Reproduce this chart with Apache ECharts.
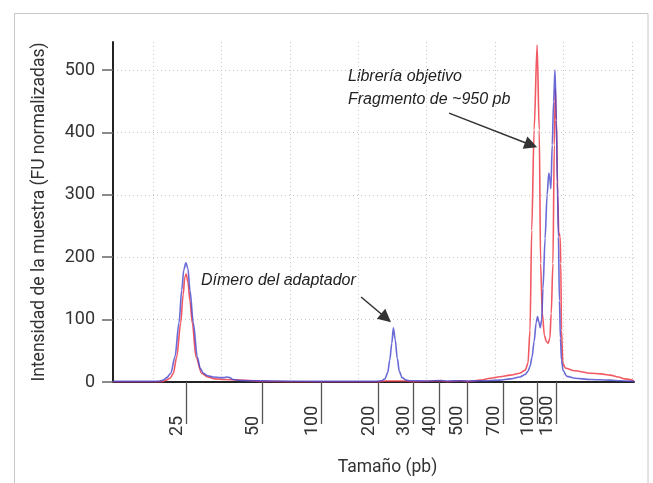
<!DOCTYPE html>
<html>
<head>
<meta charset="utf-8">
<script src="https://cdn.jsdelivr.net/npm/echarts@6/dist/echarts.min.js"></script>
<style>
html,body{margin:0;padding:0;background:#fff;}
#chart{width:653px;height:483px;}
</style>
</head>
<body>
<div id="chart"></div>
<script>
// Migration time axis (seconds) and ladder sizes
const gridTimes = [20, 30, 40, 50, 60, 70, 80, 90];
const ladderTimes = [24.82, 36.0, 44.63, 52.9, 58.0, 61.9, 65.86, 71.25, 76.14, 79.0];
const ladderLabels = ['25', '50', '100', '200', '300', '400', '500', '700', '1000', '1500'];
const yTicks = [0, 100, 200, 300, 400, 500];

// Blue trace (with adapter dimer)
const blueTime = [14.15,20,21.0,21.5,22.0,22.6,23.2,23.8,24.19,24.5,24.8,25.1,25.4,25.89,26.47,26.9,27.35,28.0,28.8,29.8,30.4,30.8,31.2,31.7,32.7,34.2,38,45,52.5,53.4,53.9,54.3,54.6,54.9,55.13,55.4,55.7,56.0,56.4,57.0,57.6,60,62,63,65,66,68,70.7,72.2,73.6,74.4,74.8,75.1,75.4,75.7,76.0,76.2,76.4,76.6,76.8,77.0,77.3,77.6,77.85,78.0,78.15,78.35,78.55,78.75,78.95,79.1,79.25,79.4,79.55,79.7,79.95,80.5,81.7,83.9,86.8,88.3,90.3];
const blueFU   = [1,1,1.5,3,7,14,40,95,147,180,191,182,147,95,40,22,14,10,8,7,7,8,7,4,2.5,2,1.5,1,1,2,5,15,35,62,87,68,38,17,7,3,2,1.5,2.5,1.5,2,1.5,2,3,5,8,12,17,25,40,65,95,105,96,87,100,150,230,300,335,325,310,380,450,500,420,320,233,130,70,35,18,9,6,4,3,2,1];

// Red trace (purified library)
const redTime = [14.15,21.3,21.75,22.5,22.97,23.46,24.05,24.4,24.65,24.85,25.1,25.4,25.74,26.28,27.1,28.0,29.06,30.5,32.5,34,35.6,40,53,54,57,58,62,63,65,66,66.3,67.8,69.3,70.7,72.2,73.6,74.4,74.8,75.1,75.35,75.7,76.14,76.45,76.65,76.9,77.2,77.5,77.75,78.0,78.2,78.45,78.65,78.8,78.95,79.15,79.3,79.5,79.6,79.7,79.9,80.3,81.6,84,85.4,86.8,88,89,90.3];
const redFU   = [0.5,0.5,2,6,14,40,95,140,168,173,160,130,95,40,14,8,5,4,3,2.5,1,0.5,0.5,1.5,1.5,0.5,2,0.5,2,0.5,1,3,6,8.5,11,14,19,30,83,243,404,540,404,190,110,75,65,62,70,110,190,380,470,420,300,240,233,190,83,30,22,18,14,13,11,8,5,2];

// Annotation arrows: [startTime, startFU, endTime, endFU]
const dimerArrow = [50.41, 136.2, 54.06, 102.6];
const libraryArrow = [63.27, 431, 75.26, 380];

const zip = (xs, ys) => xs.map((x, i) => [x, ys[i]]);

const X_MIN = 14.15, X_MAX = 90.3;
const axisFont = 'Roboto, "Liberation Sans", sans-serif';
const annFont = '"Liberation Sans", Arial, sans-serif';

const chart = echarts.init(document.getElementById('chart'), null, {renderer: 'canvas'});
chart.setOption({
  animation: false,
  backgroundColor: '#fff',
  grid: {left: 113, right: 19, top: 42, bottom: 101, containLabel: false},
  xAxis: [
    {
      type: 'value', min: X_MIN, max: X_MAX, position: 'bottom',
      axisLine: {show: true, onZero: false, lineStyle: {color: '#222', width: 2}},
      axisTick: {show: false, customValues: gridTimes},
      axisLabel: {show: false},
      splitLine: {show: true, lineStyle: {color: '#c8c8c8', type: [1, 3], width: 1}}
    },
    {
      type: 'value', min: X_MIN, max: X_MAX, position: 'bottom', offset: 14,
      axisLine: {show: false},
      axisTick: {show: true, customValues: ladderTimes, length: 42, lineStyle: {color: '#555', width: 1.3}},
      axisLabel: {
        show: true, customValues: ladderTimes, rotate: 90, align: 'left', verticalAlign: 'bottom',
        margin: 40, fontSize: 18, color: '#333', fontFamily: axisFont,
        formatter: function (v) {
          let best = 0;
          for (let i = 1; i < ladderTimes.length; i++) {
            if (Math.abs(ladderTimes[i] - v) < Math.abs(ladderTimes[best] - v)) best = i;
          }
          return ladderLabels[best];
        }
      },
      splitLine: {show: false},
      name: 'Tamaño (pb)', nameLocation: 'middle', nameGap: 63,
      nameTextStyle: {fontSize: 17.5, color: '#333', fontFamily: axisFont, padding: [0, 0, 0, 28]}
    }
  ],
  yAxis: {
    type: 'value', min: 0, max: 545,
    axisLine: {show: true, lineStyle: {color: '#222', width: 2}},
    axisTick: {show: true, customValues: yTicks, length: 11, lineStyle: {color: '#666', width: 1.5}},
    axisLabel: {customValues: yTicks, margin: 18, fontSize: 18, color: '#333', fontFamily: axisFont},
    splitLine: {show: true, lineStyle: {color: '#c8c8c8', type: [1, 3], width: 1}},
    name: 'Intensidad de la muestra (FU normalizadas)', nameLocation: 'middle', nameGap: 64,
    nameTextStyle: {fontSize: 17.5, color: '#333', fontFamily: axisFont}
  },
  series: [
    {
      name: 'Librería', type: 'line', xAxisIndex: 0, data: zip(redTime, redFU),
      showSymbol: false, smooth: 0.3, smoothMonotone: 'x',
      lineStyle: {color: 'rgb(238,60,72)', width: 1.6, opacity: 0.85}, z: 2
    },
    {
      name: 'Muestra', type: 'line', xAxisIndex: 0, data: zip(blueTime, blueFU),
      showSymbol: false, smooth: 0.3, smoothMonotone: 'x',
      lineStyle: {color: 'rgb(70,70,205)', width: 1.6, opacity: 0.8}, z: 3,
      markLine: {
        silent: true, animation: false,
        symbol: ['none', 'triangle'], symbolSize: 13,
        label: {show: false},
        lineStyle: {color: '#333', width: 1.5, type: 'solid', opacity: 1},
        itemStyle: {color: '#333'},
        data: [
          [{coord: [dimerArrow[0], dimerArrow[1]]}, {coord: [dimerArrow[2], dimerArrow[3]]}],
          [{coord: [libraryArrow[0], libraryArrow[1]]}, {coord: [libraryArrow[2], libraryArrow[3]]}]
        ]
      }
    }
  ],
  graphic: [
    {type: 'rect', shape: {x: 14.5, y: 13.5, width: 633.5, height: 480}, style: {fill: 'none', stroke: '#c8c8c8', lineWidth: 1}, silent: true},
    {type: 'text', left: 201, top: 273, style: {text: 'Dímero del adaptador', font: 'italic 16px ' + annFont, fill: '#222'}},
    {type: 'text', left: 348, top: 69, style: {text: 'Librería objetivo', font: 'italic 16px ' + annFont, fill: '#222'}},
    {type: 'text', left: 348, top: 92, style: {text: 'Fragmento de ~950 pb', font: 'italic 16px ' + annFont, fill: '#222'}}
  ]
});
</script>
</body>
</html>
